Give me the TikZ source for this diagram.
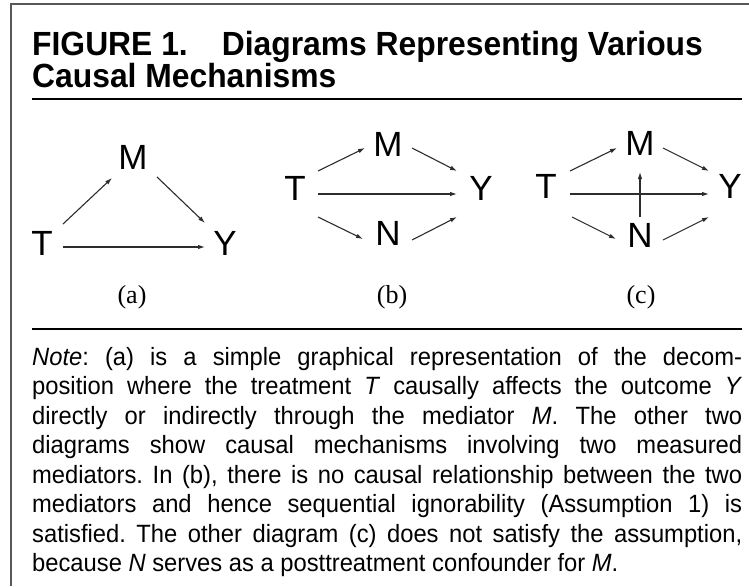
\documentclass[tikz,border=0pt]{standalone}
\usepackage{fontspec}
\setmainfont{Liberation Sans}
\newfontfamily\panelserif{Liberation Serif}
\newfontfamily\narrowsans[FakeStretch=0.95]{Liberation Sans}
\usetikzlibrary{arrows.meta}
\definecolor{framegray}{RGB}{88,88,88}
\definecolor{arrowgray}{RGB}{45,45,45}
\tikzset{
  boxline/.style={framegray,line width=1.8pt},
  hrule/.style={black,line width=1.6pt},
  causal/.style={arrowgray,line width=1.1pt,-{Latex[length=7pt,width=4.5pt]}},
  var/.style={font=\fontsize{35}{35}\selectfont,inner sep=0pt},
  panel/.style={font=\panelserif\fontsize{26}{26}\selectfont,inner sep=0pt},
  figtitle/.style={font=\narrowsans\bfseries\fontsize{33.5}{28}\selectfont,anchor=north west,
                   inner sep=0pt,align=left},
  notetext/.style={font=\narrowsans\fontsize{25}{29.5}\selectfont,anchor=north west,inner sep=0pt,
                   text width=710pt,align=justify},
}

\begin{document}
\frenchspacing
\begin{tikzpicture}[x=1pt,y=-1pt]
  \path[use as bounding box] (0,0) rectangle (749,586);
  \fill[white] (0,0) rectangle (749,586);
  \draw[boxline] (11,586) -- (11,4) -- (749,4);

  \node[figtitle] (title) at (32,31)
    {FIGURE 1.\hspace{34pt}Diagrams Representing Various\\Causal Mechanisms};
  \draw[hrule] (32,99) -- (742,99);

  % (a)
  \node[var] (Ta) at (42,243) {T};
  \node[var] (Ma) at (133,157) {M};
  \node[var] (Ya) at (225,243) {Y};
  \draw[causal] ([shift={(21,-19)}]Ta.center) -- ([shift={(-21,21)}]Ma.center);
  \draw[causal] ([shift={(24,20)}]Ma.center) -- ([shift={(-20,-20)}]Ya.center);
  \draw[causal] ([shift={(21,4)}]Ta.center) -- ([shift={(-20,4)}]Ya.center);
  \node[panel] (capa) at (132,297) {(a)};

  % (b)
  \node[var] (Tb) at (295,188) {T};
  \node[var] (Mb) at (388,144) {M};
  \node[var] (Yb) at (481,188) {Y};
  \node[var] (Nb) at (388,233) {N};
  \draw[causal] ([shift={(23,-17)}]Tb.center) -- ([shift={(-23,4)}]Mb.center);
  \draw[causal] ([shift={(24,4)}]Mb.center) -- ([shift={(-24,-17)}]Yb.center);
  \draw[causal] ([shift={(23,6)}]Tb.center) -- ([shift={(-24,6)}]Yb.center);
  \draw[causal] ([shift={(23,29)}]Tb.center) -- ([shift={(-25,6)}]Nb.center);
  \draw[causal] ([shift={(24,7)}]Nb.center) -- ([shift={(-24,29)}]Yb.center);
  \node[panel] (capb) at (392,297) {(b)};

  % (c)
  \node[var] (Tc) at (546,186) {T};
  \node[var] (Mc) at (640,143) {M};
  \node[var] (Yc) at (730,186) {Y};
  \node[var] (Nc) at (640,235) {N};
  \draw[causal] ([shift={(24,-15)}]Tc.center) -- ([shift={(-23,5)}]Mc.center);
  \draw[causal] ([shift={(23,5)}]Mc.center) -- ([shift={(-21,-15)}]Yc.center);
  \draw[causal] ([shift={(24,8)}]Tc.center) -- ([shift={(-21,8)}]Yc.center);
  \draw[causal] ([shift={(26,31)}]Tc.center) -- ([shift={(-24,4)}]Nc.center);
  \draw[causal] ([shift={(23,5)}]Nc.center) -- ([shift={(-21,31)}]Yc.center);
  \draw[causal] ([shift={(0,-18)}]Nc.center) -- ([shift={(0,29)}]Mc.center);
  \node[panel] (capc) at (641,297) {(c)};

  \draw[hrule] (32,329) -- (742,329);
  \node[notetext] (note) at (32,347)
    {\textit{Note}: (a) is a simple graphical representation of the decom-\linebreak
     position where the treatment \textit{T} causally affects the outcome \textit{Y}\linebreak
     directly or indirectly through the mediator \textit{M}. The other two\linebreak
     diagrams show causal mechanisms involving two measured\linebreak
     mediators. In (b), there is no causal relationship between the two\linebreak
     mediators and hence sequential ignorability (Assumption 1) is\linebreak
     satisfied. The other diagram (c) does not satisfy the assumption,\linebreak
     because \textit{N} serves as a posttreatment confounder for \textit{M}.};
\end{tikzpicture}
\end{document}
